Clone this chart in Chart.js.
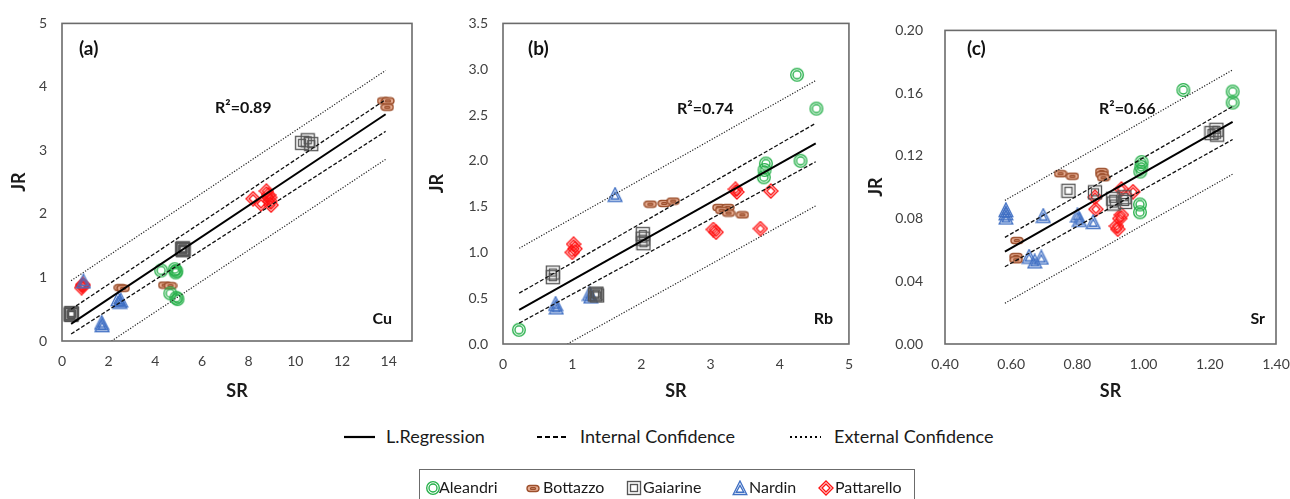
<!DOCTYPE html>
<html><head><meta charset="utf-8">
<script src="https://cdn.jsdelivr.net/npm/chart.js@4.4.1/dist/chart.umd.min.js"></script>
<style>
html,body{margin:0;padding:0;background:#fff;width:1290px;height:499px;overflow:hidden;font-family:Lato,sans-serif;}
.pan{position:absolute;top:0;}
.lg{position:absolute;font-family:Lato,sans-serif;color:#1a1a1a;white-space:nowrap;}
.ic{position:absolute;}
</style></head><body>
<div class="pan" style="left:0px"><canvas id="ca" width="430" height="410" style="width:430px;height:410px"></canvas></div>
<div class="pan" style="left:420px"><canvas id="cb" width="445" height="410" style="width:445px;height:410px"></canvas></div>
<div class="pan" style="left:860px"><canvas id="cc" width="450" height="410" style="width:450px;height:410px"></canvas></div>
<div id="legend"></div>
<script>
// ---------- DATA: Cu (a) ----------
const cuXTicks = [0, 2, 4, 6, 8, 10, 12, 14];
const cuYTicks = [0, 1, 2, 3, 4, 5];
const cuAleandri = [[4.25,1.11],[4.83,1.13],[4.87,1.08],[4.90,1.10],[4.64,0.75],[4.90,0.68],[4.95,0.66]];
const cuBottazzo = [[2.50,0.84],[2.62,0.83],[4.40,0.88],[4.65,0.87],[13.78,3.78],[13.97,3.78],[13.94,3.68]];
const cuGaiarine = [[0.37,0.42],[0.40,0.41],[0.43,0.43],[0.40,0.44],[5.15,1.45],[5.18,1.46],[5.21,1.44],[5.18,1.43],[10.29,3.12],[10.53,3.16],[10.68,3.10]];
const cuNardin = [[0.92,0.94],[2.40,0.66],[2.48,0.62],[2.52,0.64],[1.70,0.29],[1.72,0.25]];
const cuPattarello = [[0.84,0.84],[0.88,0.87],[0.90,0.89],[8.19,2.24],[8.76,2.36],[8.53,2.16],[8.90,2.26],[8.96,2.14],[8.85,2.30],[8.92,2.20]];
const cuRegression = [[0.39,0.27],[13.87,3.57]];
const cuIntUpper = [[0.39,0.50],[13.87,3.80]];
const cuIntLower = [[0.39,0.11],[13.87,3.30]];
const cuExtUpper = [[0.39,0.95],[13.87,4.26]];
const cuExtLower = [[2.12,0.00],[13.87,2.86]];

// ---------- DATA: Rb (b) ----------
const rbXTicks = [0, 1, 2, 3, 4, 5];
const rbYTicks = [0, 0.5, 1, 1.5, 2, 2.5, 3, 3.5];
const rbAleandri = [[0.23,0.155],[4.25,2.94],[4.53,2.57],[4.30,2.00],[3.80,1.97],[3.78,1.90],[3.77,1.82]];
const rbBottazzo = [[2.13,1.527],[2.33,1.534],[2.46,1.56],[3.12,1.49],[3.25,1.49],[3.16,1.46],[3.26,1.43],[3.46,1.41]];
const rbGaiarine = [[0.72,0.78],[0.72,0.73],[2.02,1.20],[2.02,1.15],[2.03,1.10],[1.33,0.54],[1.36,0.53],[1.35,0.55]];
const rbNardin = [[1.62,1.63],[0.76,0.44],[0.77,0.40],[1.25,0.55],[1.27,0.52]];
const rbPattarello = [[1.02,1.09],[1.04,1.04],[1.00,1.00],[3.36,1.69],[3.38,1.66],[3.87,1.67],[3.04,1.25],[3.08,1.22],[3.72,1.26]];
const rbRegression = [[0.234,0.373],[4.52,2.19]];
const rbIntUpper = [[0.234,0.555],[4.52,2.41]];
const rbIntLower = [[0.234,0.228],[4.52,1.99]];
const rbExtUpper = [[0.234,1.045],[4.52,2.876]];
const rbExtLower = [[0.93,0.00],[4.52,1.508]];

// ---------- DATA: Sr (c) ----------
const srXTicks = [0.4, 0.6, 0.8, 1.0, 1.2, 1.4];
const srYTicks = [0, 0.04, 0.08, 0.12, 0.16, 0.20];
const srAleandri = [[1.12,0.162],[1.269,0.161],[1.269,0.154],[0.994,0.116],[0.993,0.113],[0.990,0.110],[0.989,0.089],[0.989,0.084]];
const srBottazzo = [[0.749,0.1086],[0.785,0.107],[0.873,0.110],[0.875,0.108],[0.879,0.106],[0.617,0.066],[0.615,0.0558],[0.615,0.0537]];
const srGaiarine = [[0.773,0.0977],[0.853,0.0967],[0.908,0.0926],[0.910,0.0896],[0.942,0.0936],[0.944,0.0906],[1.205,0.1345],[1.220,0.1366],[1.222,0.1335]];
const srNardin = [[0.584,0.0855],[0.584,0.0834],[0.584,0.0807],[0.697,0.0818],[0.800,0.082],[0.806,0.0793],[0.848,0.0779],[0.654,0.0558],[0.671,0.0527],[0.691,0.0552]];
const srPattarello = [[0.853,0.0936],[0.856,0.0859],[0.933,0.0988],[0.968,0.0971],[0.933,0.0824],[0.928,0.080],[0.918,0.0752],[0.922,0.0732]];
const srRegression = [[0.581,0.0589],[1.269,0.1417]];
const srIntUpper = [[0.581,0.068],[1.269,0.1515]];
const srIntLower = [[0.581,0.0493],[1.269,0.1304]];
const srExtUpper = [[0.581,0.0916],[1.269,0.1748]];
const srExtLower = [[0.581,0.026],[1.269,0.1083]];

const seriesNames = ['Aleandri','Bottazzo','Gaiarine','Nardin','Pattarello'];
const lineNames = ['L.Regression','Internal Confidence','External Confidence'];

// ---------- STYLES ----------
const COLORS = {Aleandri:'#26b04a', Bottazzo:'#9c4f2c', Gaiarine:'#555555', Nardin:'#4070c4', Pattarello:'#ff1212'};
const SHAPES = {Aleandri:'circle', Bottazzo:'pill', Gaiarine:'square', Nardin:'triangle', Pattarello:'diamond'};
const FONT = 'Lato, "Open Sans", sans-serif';

function poly(g, pts){ g.beginPath(); g.moveTo(pts[0][0],pts[0][1]); for(let i=1;i<pts.length;i++) g.lineTo(pts[i][0],pts[i][1]); g.closePath(); g.stroke(); }
function rr(g,x,y,w,h,r){ g.beginPath(); g.moveTo(x+r,y); g.lineTo(x+w-r,y); g.arcTo(x+w,y,x+w,y+r,r); g.lineTo(x+w,y+h-r); g.arcTo(x+w,y+h,x+w-r,y+h,r); g.lineTo(x+r,y+h); g.arcTo(x,y+h,x,y+h-r,r); g.lineTo(x,y+r); g.arcTo(x,y,x+r,y,r); g.closePath(); }
function makeMarker(name){
  const shape = SHAPES[name], color = COLORS[name];
  const c = document.createElement('canvas');
  const W = shape==='pill'?14:16, H = shape==='pill'?9:16;
  c.width=W; c.height=H;
  const g = c.getContext('2d');
  g.strokeStyle=color; g.lineWidth=1.35;
  const cx=W/2, cy=H/2;
  if(shape==='circle'){
    g.beginPath(); g.arc(cx,cy,6.3,0,Math.PI*2); g.stroke();
    g.beginPath(); g.arc(cx,cy,4.0,0,Math.PI*2); g.stroke();
  } else if(shape==='square'){
    g.strokeRect(1.5,1.5,13,13); g.strokeRect(4.5,4.5,7,7);
  } else if(shape==='triangle'){
    poly(g,[[cx,1],[cx+6.8,14.5],[cx-6.8,14.5]]);
    poly(g,[[cx,5.4],[cx+3.8,12.2],[cx-3.8,12.2]]);
  } else if(shape==='diamond'){
    poly(g,[[cx,1],[cx+7,cy],[cx,15],[cx-7,cy]]);
    poly(g,[[cx,4],[cx+4,cy],[cx,12],[cx-4,cy]]);
  } else {
    g.fillStyle='#e6ad93';
    rr(g,1,1.5,12,6,3); g.fill(); g.stroke();
    rr(g,4.5,3.6,5,1.8,0.9); g.stroke();
  }
  return c;
}
const MARKERS = {}; seriesNames.forEach(n=>MARKERS[n]=makeMarker(n));

const LINE_STYLES = [
  {color:'#000', width:2, dash:[]},
  {color:'#111', width:1.3, dash:[4,2]},
  {color:'#222', width:1.2, dash:[1.2,1.6]}
];

const boxPlugin = {
  id:'box',
  afterDatasetsDraw(chart){
    const a = chart.chartArea, g = chart.ctx;
    g.save(); g.strokeStyle='#6b6b6b'; g.lineWidth=1.6;
    g.strokeRect(a.left, a.top, a.right-a.left, a.bottom-a.top);
    g.restore();
  }
};
const annoPlugin = {
  id:'anno',
  afterDraw(chart, args, opts){
    const g = chart.ctx;
    g.save(); g.fillStyle='#111'; g.textBaseline='middle';
    (opts.items||[]).forEach(it=>{
      g.font = 'bold '+it.size+'px '+FONT;
      g.textAlign = it.align||'left';
      g.fillText(it.text, it.x - opts.offsetX, it.y);
    });
    g.restore();
  }
};

function pts(arr){ return arr.map(p=>({x:p[0], y:p[1]})); }

function buildChart(id, P){
  const datasets = [];
  const lines = [[P.reg,0],[P.intUp,1],[P.intLo,1],[P.extUp,2],[P.extLo,2]];
  lines.forEach(([d,s])=>{
    const st = LINE_STYLES[s];
    datasets.push({label:lineNames[s], data:pts(d), showLine:true, pointRadius:0, borderColor:st.color, borderWidth:st.width, borderDash:st.dash, fill:false});
  });
  seriesNames.forEach((n,i)=>{
    datasets.push({label:n, data:pts(P.series[i]), showLine:false, pointStyle:MARKERS[n], pointRadius:6, pointHoverRadius:6});
  });
  const tickFont = {family:FONT, size:14};
  const titleFont = {family:FONT, size:18, weight:'bold'};
  new Chart(document.getElementById(id), {
    type:'scatter',
    data:{datasets},
    options:{
      responsive:false, animation:false, devicePixelRatio:1,
      events:[],
      layout:{padding:{left:0, right:P.padR, top:P.padT, bottom:0}},
      plugins:{legend:{display:false}, tooltip:{enabled:false},
        anno:{items:P.anno, offsetX:P.offsetX}},
      scales:{
        x:{type:'linear', min:P.xMin, max:P.xMax,
          afterBuildTicks:s=>{ s.ticks = P.xTicks.map(v=>({value:v})); },
          afterFit:s=>{ s.height = P.xH; },
          ticks:{font:tickFont, color:'#404040', padding:12, maxRotation:0, autoSkip:false, callback:v=>v.toFixed(P.xDec)},
          grid:{display:false, drawTicks:false}, border:{display:false},
          title:{display:true, text:'SR', font:titleFont, color:'#1a1a1a', padding:{top:0,bottom:8}}
        },
        y:{type:'linear', min:P.yMin, max:P.yMax,
          afterBuildTicks:s=>{ s.ticks = P.yTicks.map(v=>({value:v})); },
          afterFit:s=>{ s.width = P.yW; },
          ticks:{font:tickFont, color:'#404040', padding:P.yPad, autoSkip:false, callback:v=>v.toFixed(P.yDec)},
          grid:{display:false, drawTicks:false}, border:{display:false},
          title:{display:true, text:'JR', font:titleFont, color:'#1a1a1a', padding:{top:P.yTitlePad,bottom:0}}
        }
      }
    },
    plugins:[boxPlugin, annoPlugin]
  });
}

buildChart('ca', {
  series:[cuAleandri,cuBottazzo,cuGaiarine,cuNardin,cuPattarello],
  reg:cuRegression, intUp:cuIntUpper, intLo:cuIntLower, extUp:cuExtUpper, extLo:cuExtLower,
  xMin:0, xMax:15, yMin:0, yMax:5, xTicks:cuXTicks, yTicks:cuYTicks, xDec:0, yDec:0,
  padR:18, padT:18, xH:69, yW:62, yPad:15, yTitlePad:8, offsetX:0,
  anno:[{text:'(a)',x:79,y:49,size:19},{text:'R\u00B2=0.89',x:215,y:108,size:16},{text:'Cu',x:392,y:319,size:16,align:'right'}]
});
buildChart('cb', {
  series:[rbAleandri,rbBottazzo,rbGaiarine,rbNardin,rbPattarello],
  reg:rbRegression, intUp:rbIntUpper, intLo:rbIntLower, extUp:rbExtUpper, extLo:rbExtLower,
  xMin:0, xMax:5, yMin:0, yMax:3.5, xTicks:rbXTicks, yTicks:rbYTicks, xDec:0, yDec:1,
  padR:13, padT:23, xH:66, yW:83, yPad:15, yTitlePad:6, offsetX:420,
  anno:[{text:'(b)',x:528,y:49,size:19},{text:'R\u00B2=0.74',x:677,y:109,size:16},{text:'Rb',x:833,y:319,size:16,align:'right'}]
});
buildChart('cc', {
  series:[srAleandri,srBottazzo,srGaiarine,srNardin,srPattarello],
  reg:srRegression, intUp:srIntUpper, intLo:srIntLower, extUp:srExtUpper, extLo:srExtLower,
  xMin:0.4, xMax:1.4, yMin:0, yMax:0.2, xTicks:srXTicks, yTicks:srYTicks, xDec:2, yDec:2,
  padR:34, padT:18, xH:66, yW:85, yPad:22, yTitlePad:5, offsetX:860,
  anno:[{text:'(c)',x:967,y:49,size:19},{text:'R\u00B2=0.66',x:1099,y:109,size:16},{text:'Sr',x:1265,y:319,size:16,align:'right'}]
});

// ---------- LEGENDS (HTML) ----------
const L = document.getElementById('legend');
function addText(txt, x, yc, size){
  const d = document.createElement('div'); d.className='lg';
  d.textContent = txt; d.style.left = x+'px'; d.style.top = (yc - size/2 - 1)+'px';
  d.style.fontSize = size+'px'; d.style.lineHeight = size+'px';
  L.appendChild(d);
}
function addLineSample(x, yc, w, st){
  const c = document.createElement('canvas'); c.width=w; c.height=6; c.className='ic';
  c.style.left = x+'px'; c.style.top=(yc-3)+'px';
  const g=c.getContext('2d'); g.strokeStyle='#000'; g.lineWidth=st.w; g.setLineDash(st.dash);
  g.beginPath(); g.moveTo(0,3); g.lineTo(w,3); g.stroke();
  L.appendChild(c);
}
const lineLegendX = [[344,386],[537,580],[790,834]];
const sampleStyles = [{w:2.2,dash:[]},{w:2,dash:[5,3]},{w:2,dash:[2,3]}];
lineNames.forEach((n,i)=>{
  addLineSample(lineLegendX[i][0], 437, 31, sampleStyles[i]);
  addText(n, lineLegendX[i][1], 437, 18);
});
const box = document.createElement('div');
box.style.cssText = 'position:absolute;left:419px;top:469px;width:496px;height:40px;border:1px solid #6b6b6b;box-sizing:border-box;';
L.appendChild(box);
const seriesLegendX = [[425,439],[526,543],[626,643],[732,749],[818,835]];
seriesNames.forEach((n,i)=>{
  const src = MARKERS[n];
  const c = document.createElement('canvas'); c.width=src.width; c.height=src.height; c.className='ic';
  c.getContext('2d').drawImage(src,0,0);
  c.style.left = (seriesLegendX[i][0])+'px'; c.style.top = (488 - src.height/2)+'px';
  L.appendChild(c);
  addText(n, seriesLegendX[i][1], 488, 16);
});
</script>
</body></html>
